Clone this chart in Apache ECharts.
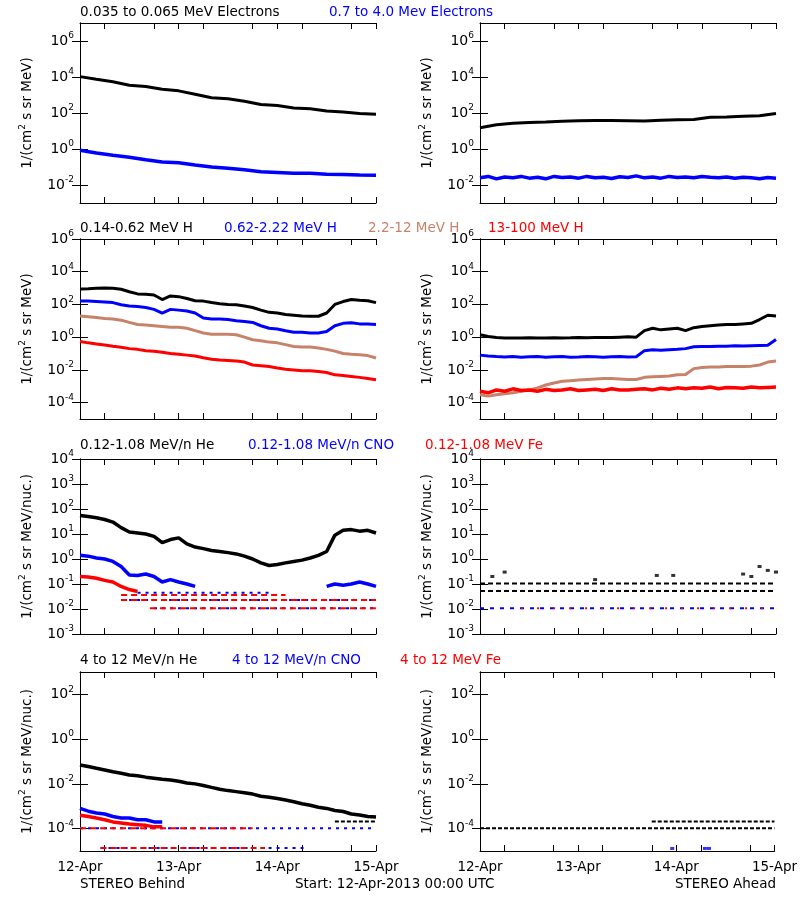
<!DOCTYPE html>
<html>
<head>
<meta charset="utf-8">
<script src="https://cdn.jsdelivr.net/npm/echarts@6/dist/echarts.min.js"></script>
<style>
  html, body { margin: 0; padding: 0; background: #fff; }
  #chart { width: 800px; height: 900px; }
</style>
</head>
<body>
<div id="chart"></div>
<script>
// time axis: hours since 12-Apr-2013 00:00 UTC
const hours4 = [0,4,8,12,16,20,24,28,32,36,40,44,48,52,56,60,64,68,72];
const hours2 = [0,2,4,6,8,10,12,14,16,18,20,22,24,26,28,30,32,34,36,38,40,42,44,46,48,50,52,54,56,58,60,62,64,66,68,70,72];
const dayTicks = [0, 24, 48, 72];
const dayLabels = ['12-Apr', '13-Apr', '14-Apr', '15-Apr'];
const minorTicks = [0, 6, 18, 24, 30, 42, 48, 54, 66, 72];

// row 1: electrons
const elecLowBehind = [10500,7500,5500,3500,3000,2100,1700,1100,700,620,450,300,260,190,170,130,115,95,85];
const elecHighBehind = [0.85,0.6,0.45,0.35,0.25,0.19,0.17,0.13,0.1,0.085,0.07,0.055,0.05,0.045,0.045,0.04,0.038,0.036,0.035];
const elecLowAhead = [15,22,27,30,32,35,37,38,38,37,36,40,42,44,58,60,65,70,95];
const elecHighAhead = [0.025,0.03,0.022,0.028,0.025,0.03,0.024,0.027,0.022,0.03,0.026,0.028,0.024,0.03,0.025,0.027,0.023,0.029,0.026,0.032,0.025,0.028,0.024,0.03,0.026,0.028,0.025,0.03,0.027,0.025,0.028,0.024,0.027,0.025,0.022,0.026,0.024];

// row 2: protons
const hLowBehind = [870,920,980,1000,980,850,600,440,420,380,200,330,300,230,170,160,130,110,100,95,80,65,45,33,30,24,22,20,19,19,30,100,150,200,180,170,130];
const hMidBehind = [160,160,150,140,130,95,80,75,65,50,30,50,45,40,30,15,13,13,12,10,9,8,5,3.5,3.2,2.5,2,2,1.8,1.8,2.2,5,7,7.5,6.5,6.5,6];
const hHighBehind = [20,18,16,14,13,11,8,6,5.5,5,4.5,4,4,3.5,2.5,1.8,1.5,1.5,1.5,1.4,1,0.7,0.6,0.5,0.45,0.35,0.27,0.25,0.25,0.22,0.18,0.14,0.1,0.09,0.085,0.075,0.053];
const hTopBehind = [0.55,0.45,0.38,0.33,0.28,0.24,0.2,0.18,0.15,0.14,0.12,0.1,0.09,0.08,0.07,0.055,0.045,0.04,0.038,0.035,0.03,0.02,0.018,0.016,0.013,0.011,0.01,0.009,0.009,0.008,0.007,0.005,0.0045,0.004,0.0035,0.003,0.0025];
const hLowAhead = [1.4,1.1,0.95,0.9,0.88,0.9,0.92,0.88,0.9,0.93,0.9,0.92,0.95,0.93,0.95,0.97,0.95,1.0,1.05,1.0,2.5,3.5,2.8,3.2,3.5,2.5,3.8,4.5,5,5.5,6,6,6.5,7,12,22,20];
const hMidAhead = [0.08,0.07,0.065,0.062,0.065,0.06,0.064,0.066,0.06,0.063,0.065,0.06,0.062,0.066,0.064,0.06,0.063,0.065,0.062,0.064,0.15,0.17,0.16,0.17,0.18,0.2,0.26,0.27,0.27,0.28,0.28,0.3,0.29,0.3,0.31,0.32,0.72];
const hHighAhead = [3e-4,2.5e-4,3e-4,3.5e-4,4e-4,5e-4,6e-4,8e-4,1.2e-3,1.6e-3,2e-3,2.2e-3,2.4e-3,2.6e-3,2.8e-3,3e-3,3e-3,2.8e-3,2.6e-3,2.6e-3,3.5e-3,3.8e-3,4e-3,4.2e-3,5e-3,5.3e-3,0.012,0.014,0.015,0.015,0.016,0.016,0.016,0.017,0.02,0.03,0.035];
const hTopAhead = [5e-4,4e-4,6e-4,5e-4,7e-4,5.5e-4,6e-4,5e-4,6.5e-4,5.5e-4,6e-4,7e-4,5.5e-4,6e-4,6.5e-4,5.5e-4,7e-4,6e-4,6e-4,6.5e-4,7e-4,6e-4,7.5e-4,6.5e-4,8e-4,7e-4,8e-4,7.5e-4,9e-4,7e-4,8.5e-4,8e-4,7.5e-4,9e-4,8e-4,8.5e-4,9e-4];

// row 3: suprathermal ions
const heLowBehind = [55,50,45,38,30,18,12,11,10,8,4.5,6,7,4,3,2.6,2.2,2,1.8,1.6,1.3,1,0.7,0.55,0.6,0.7,0.8,0.9,1.1,1.4,2,9,14,15,13,14,11];
const cnoLowBehind = [1.4,1.3,1.1,1.0,0.8,0.5,0.23,0.22,0.25,0.2,0.12,0.15,0.12,0.1,0.08,null,null,null,null,null,null,null,null,null,null,null,null,null,null,null,0.08,0.1,0.09,0.1,0.12,0.1,0.08];
const feLowBehind = [0.2,0.19,0.17,0.14,0.12,0.08,0.06,0.05];
// count-rate floors: [start hour, end hour, value]
const cnoFloorsBehind = [[14,46,0.045],[10,72,0.023],[18,72,0.0107]];
const feFloorsBehind = [[10,50,0.036],[10,72,0.023],[17,72,0.0107]];
const heFloorsAhead = [[0,72,0.052],[0,72,0.105]];
const heSpikesAhead = [[3,0.2],[6,0.3],[28,0.15],[43,0.22],[47,0.22],[64,0.25],[66,0.2],[68,0.5],[70,0.35],[72,0.3]];
const cnoFloorsAhead = [[0,72,0.0107]];
const feFloorsAhead = [[10,72,0.0107]];

// row 4: energetic ions
const heHighBehind = [0.07,0.06,0.05,0.042,0.035,0.03,0.025,0.023,0.02,0.018,0.016,0.015,0.013,0.011,0.01,0.0085,0.007,0.0058,0.005,0.0045,0.004,0.0035,0.0028,0.0025,0.0022,0.0019,0.0016,0.0013,0.0011,9e-4,8e-4,6.5e-4,5.8e-4,4.5e-4,4.1e-4,3.5e-4,3.3e-4];
const cnoHighBehind = [8e-4,6e-4,5e-4,4.5e-4,3.5e-4,3e-4,3e-4,2.5e-4,2.5e-4,2e-4,2e-4];
const feHighBehind = [4e-4,3.5e-4,3e-4,2.5e-4,2e-4,1.8e-4,1.6e-4,1.5e-4,1.4e-4,1.2e-4,1.2e-4];
const heFloorsHighBehind = [[62,72,2.1e-4]];
const cnoFloorsHighBehind = [[0,72,1.05e-4],[5,55,1.35e-5]];
const feFloorsHighBehind = [[0,42,1.05e-4],[5,45,1.35e-5]];
const heFloorsHighAhead = [[0,72,1.05e-4],[42,72,2.1e-4]];
const cnoSpikesHighAhead = [[47,1.3e-5],[55,1.3e-5],[56,1.3e-5]];

const BLUE = '#0000ff', RED = '#ff0000', TAN = '#c8826a', BLACK = '#000000';
const FONT = 'DejaVu Sans';

const panels = [
  { left: 80, top: 23, height: 180, yMin: 1e-3, yMax: 1e7, yTicks: [1e-2,1,1e2,1e4,1e6], name: 'MeV' },
  { left: 480, top: 23, height: 180, yMin: 1e-3, yMax: 1e7, yTicks: [1e-2,1,1e2,1e4,1e6], name: 'MeV' },
  { left: 80, top: 239, height: 180, yMin: 1e-5, yMax: 1e6, yTicks: [1e-4,1e-2,1,1e2,1e4,1e6], name: 'MeV' },
  { left: 480, top: 239, height: 180, yMin: 1e-5, yMax: 1e6, yTicks: [1e-4,1e-2,1,1e2,1e4,1e6], name: 'MeV' },
  { left: 80, top: 459, height: 175, yMin: 1e-3, yMax: 1e4, yTicks: [1e-3,1e-2,1e-1,1,1e1,1e2,1e3,1e4], name: 'MeV/nuc.' },
  { left: 480, top: 459, height: 175, yMin: 1e-3, yMax: 1e4, yTicks: [1e-3,1e-2,1e-1,1,1e1,1e2,1e3,1e4], name: 'MeV/nuc.' },
  { left: 80, top: 672, height: 179, yMin: 1e-5, yMax: 1e3, yTicks: [1e-4,1e-2,1,1e2], name: 'MeV/nuc.', bottom: true },
  { left: 480, top: 672, height: 179, yMin: 1e-5, yMax: 1e3, yTicks: [1e-4,1e-2,1,1e2], name: 'MeV/nuc.', bottom: true }
];

const zip = (xs, ys) => ys.map((v, i) => [xs[i], v]);

const grids = [], xAxes = [], yAxes = [], series = [];
const axisLine = { lineStyle: { color: BLACK, width: 1 } };

panels.forEach((p, i) => {
  grids.push({ left: p.left, top: p.top, width: 296, height: p.height });
  const xBase = {
    gridIndex: i, type: 'value', min: 0, max: 72, interval: 24,
    axisLine: axisLine, splitLine: { show: false },
    axisTick: { inside: true, length: 6, customValues: minorTicks, lineStyle: { color: BLACK } }
  };
  xAxes.push(Object.assign({}, xBase, {
    position: 'bottom',
    axisLabel: {
      show: !!p.bottom, customValues: dayTicks, color: BLACK, fontFamily: FONT, fontSize: 13.5, margin: 9,
      formatter: v => dayLabels[dayTicks.indexOf(v)]
    }
  }));
  xAxes.push(Object.assign({}, xBase, { position: 'top', axisLabel: { show: false } }));
  const yBase = {
    gridIndex: i, type: 'log', logBase: 10, min: p.yMin, max: p.yMax,
    axisLine: axisLine, splitLine: { show: false }, minorTick: { show: false },
    axisTick: { inside: true, length: 8, customValues: p.yTicks, lineStyle: { color: BLACK } }
  };
  yAxes.push(Object.assign({}, yBase, {
    position: 'left',
    name: '1/(cm{s|2} s sr ' + p.name + ')',
    nameLocation: 'middle', nameRotate: 90, nameGap: 44,
    nameTextStyle: { color: BLACK, fontFamily: FONT, fontSize: 13.5, rich: { s: { fontSize: 9, padding: [0, 0, 9, 0] } } },
    axisLabel: {
      customValues: p.yTicks, color: BLACK, margin: 6,
      formatter: v => '{b|10}{s|' + Math.round(Math.log10(v)) + '}',
      rich: {
        b: { fontFamily: FONT, fontSize: 14, color: BLACK },
        s: { fontFamily: FONT, fontSize: 9, color: BLACK, padding: [0, 0, 10, 0] }
      }
    }
  }));
  yAxes.push(Object.assign({}, yBase, { position: 'right', axisLabel: { show: false } }));
});

function line(panel, data, color, width) {
  series.push({
    type: 'line', xAxisIndex: panel * 2, yAxisIndex: panel * 2, data: data,
    showSymbol: false, connectNulls: false, animation: false,
    lineStyle: { color: color, width: width || 3 }
  });
}
function floors(panel, list, color, dash) {
  list.forEach(f => {
    series.push({
      type: 'line', xAxisIndex: panel * 2, yAxisIndex: panel * 2,
      data: [[f[0], f[2]], [f[1], f[2]]], showSymbol: false, animation: false,
      lineStyle: { color: color, width: 2, type: dash }
    });
  });
}
function dots(panel, data, color) {
  series.push({
    type: 'scatter', xAxisIndex: panel * 2, yAxisIndex: panel * 2, data: data,
    symbol: 'rect', symbolSize: [4, 3], itemStyle: { color: color }, animation: false
  });
}

// row 1
line(0, zip(hours4, elecLowBehind), BLACK);
line(0, zip(hours4, elecHighBehind), BLUE, 3.5);
line(1, zip(hours4, elecLowAhead), BLACK);
line(1, zip(hours2, elecHighAhead), BLUE, 3.5);
// row 2
line(2, zip(hours2, hLowBehind), BLACK);
line(2, zip(hours2, hMidBehind), BLUE);
line(2, zip(hours2, hHighBehind), TAN);
line(2, zip(hours2, hTopBehind), RED);
line(3, zip(hours2, hLowAhead), BLACK);
line(3, zip(hours2, hMidAhead), BLUE);
line(3, zip(hours2, hHighAhead), TAN);
line(3, zip(hours2, hTopAhead), RED, 3.5);
// row 3
line(4, zip(hours2, heLowBehind), BLACK, 3.5);
line(4, zip(hours2, cnoLowBehind), BLUE, 3.5);
line(4, zip(hours2, feLowBehind), RED, 3.5);
floors(4, cnoFloorsBehind, BLUE, [3, 5]);
floors(4, feFloorsBehind, RED, [6, 4]);
floors(5, heFloorsAhead, BLACK, [5, 3]);
dots(5, heSpikesAhead, BLACK);
floors(5, cnoFloorsAhead, BLUE, [4, 6]);
floors(5, feFloorsAhead, RED, [2, 14]);
// row 4
line(6, zip(hours2, heHighBehind), BLACK, 3.5);
line(6, zip(hours2, cnoHighBehind), BLUE, 3.5);
line(6, zip(hours2, feHighBehind), RED, 3.5);
floors(6, heFloorsHighBehind, BLACK, [4, 2]);
floors(6, cnoFloorsHighBehind, BLUE, [3, 5]);
floors(6, feFloorsHighBehind, RED, [6, 4]);
floors(7, heFloorsHighAhead, BLACK, [4, 2]);
dots(7, cnoSpikesHighAhead, BLUE);

function txt(x, y, text, color, align) {
  return { type: 'text', left: align === 'right' ? null : x, right: align === 'right' ? 800 - x : null, top: y,
    style: { text: text, fill: color, font: '13.5px "DejaVu Sans"' } };
}

const graphics = [
  txt(80, 5, '0.035 to 0.065 MeV Electrons', BLACK),
  txt(329, 5, '0.7 to 4.0 Mev Electrons', BLUE),
  txt(80, 221, '0.14-0.62 MeV H', BLACK),
  txt(224, 221, '0.62-2.22 MeV H', BLUE),
  txt(368, 221, '2.2-12 MeV H', TAN),
  txt(488, 221, '13-100 MeV H', RED),
  txt(80, 438, '0.12-1.08 MeV/n He', BLACK),
  txt(248, 438, '0.12-1.08 MeV/n CNO', BLUE),
  txt(425, 438, '0.12-1.08 MeV Fe', RED),
  txt(80, 653, '4 to 12 MeV/n He', BLACK),
  txt(232, 653, '4 to 12 MeV/n CNO', BLUE),
  txt(400, 653, '4 to 12 MeV Fe', RED),
  txt(80, 877, 'STEREO Behind', BLACK),
  txt(295, 877, 'Start: 12-Apr-2013 00:00 UTC', BLACK),
  txt(776, 877, 'STEREO Ahead', BLACK, 'right')
];

const chart = echarts.init(document.getElementById('chart'));
chart.setOption({
  backgroundColor: '#fff',
  animation: false,
  grid: grids,
  xAxis: xAxes,
  yAxis: yAxes,
  series: series,
  graphic: graphics
});
</script>
</body>
</html>
